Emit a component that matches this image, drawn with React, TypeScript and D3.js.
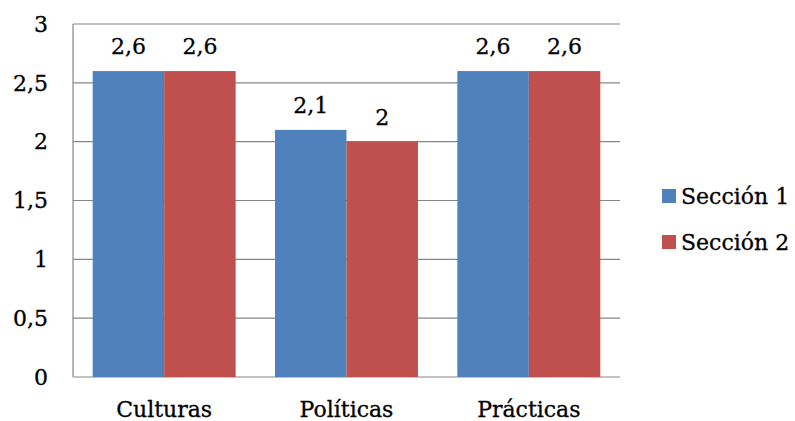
import React from 'react';
import * as d3 from 'd3';

const width = 795;
const height = 421;
const margin = { top: 24, right: 175, bottom: 44, left: 73 };

const categories: string[] = ['Culturas', 'Políticas', 'Prácticas'];
const seriesNames: string[] = ['Sección 1', 'Sección 2'];
const seccion1: number[] = [2.6, 2.1, 2.6];
const seccion2: number[] = [2.6, 2.0, 2.6];
const yTicks: number[] = [0, 0.5, 1, 1.5, 2, 2.5, 3];
const colors: string[] = ['#4F81BD', '#C0504D'];

const font = '"DejaVu Serif", serif';
const fs = 22;
const fmt = (v: number) => String(v).replace('.', ',');

const Chart = () => {
    const plotW = width - margin.left - margin.right;
    const plotH = height - margin.top - margin.bottom;
    const series = [seccion1, seccion2];

    const x0 = d3.scaleBand().domain(categories).range([0, plotW]).paddingInner(0.216).paddingOuter(0.108);
    const x1 = d3.scaleBand().domain(seriesNames).range([0, x0.bandwidth()]);
    const y = d3.scaleLinear().domain([0, 3]).range([plotH, 0]);

    const textProps = { fontFamily: font, fontSize: fs, fill: '#000', stroke: '#000', strokeWidth: 0.3 };

    return (
        <svg width={width} height={height} style={{ position: 'absolute', left: 0, top: 0 }}>
            <rect width={width} height={height} fill="#fff" />
            <g transform={`translate(${margin.left},${margin.top})`}>
                {yTicks.map(t => (
                    <g key={t}>
                        <line x1={0} x2={plotW} y1={y(t)} y2={y(t)} stroke="#868686" strokeWidth={1.2} />
                        <text x={-25} y={y(t)} dy="0.35em" textAnchor="end" {...textProps}>
                            {fmt(t)}
                        </text>
                    </g>
                ))}
                <line x1={0} x2={0} y1={0} y2={plotH} stroke="#868686" strokeWidth={1.2} />
                {categories.map((c, i) => (
                    <g key={c} transform={`translate(${x0(c)},0)`}>
                        {series.map((s, j) => (
                            <g key={j}>
                                <rect
                                    x={x1(seriesNames[j])}
                                    y={y(s[i])}
                                    width={x1.bandwidth()}
                                    height={plotH - y(s[i])}
                                    fill={colors[j]}
                                />
                                <text
                                    x={(x1(seriesNames[j]) as number) + x1.bandwidth() / 2}
                                    y={y(s[i]) - 17}
                                    textAnchor="middle"
                                    {...textProps}
                                >
                                    {fmt(s[i])}
                                </text>
                            </g>
                        ))}
                        <text x={x0.bandwidth() / 2} y={plotH + 40} textAnchor="middle" {...textProps}>
                            {c}
                        </text>
                    </g>
                ))}
            </g>
            {seriesNames.map((n, j) => (
                <g key={n} transform={`translate(662,${189 + j * 46})`}>
                    <rect width={14} height={14} fill={colors[j]} />
                    <text x={19} y={7} dy="0.35em" {...textProps}>
                        {n}
                    </text>
                </g>
            ))}
        </svg>
    );
};

export const App = () => <Chart />;

export default App;
